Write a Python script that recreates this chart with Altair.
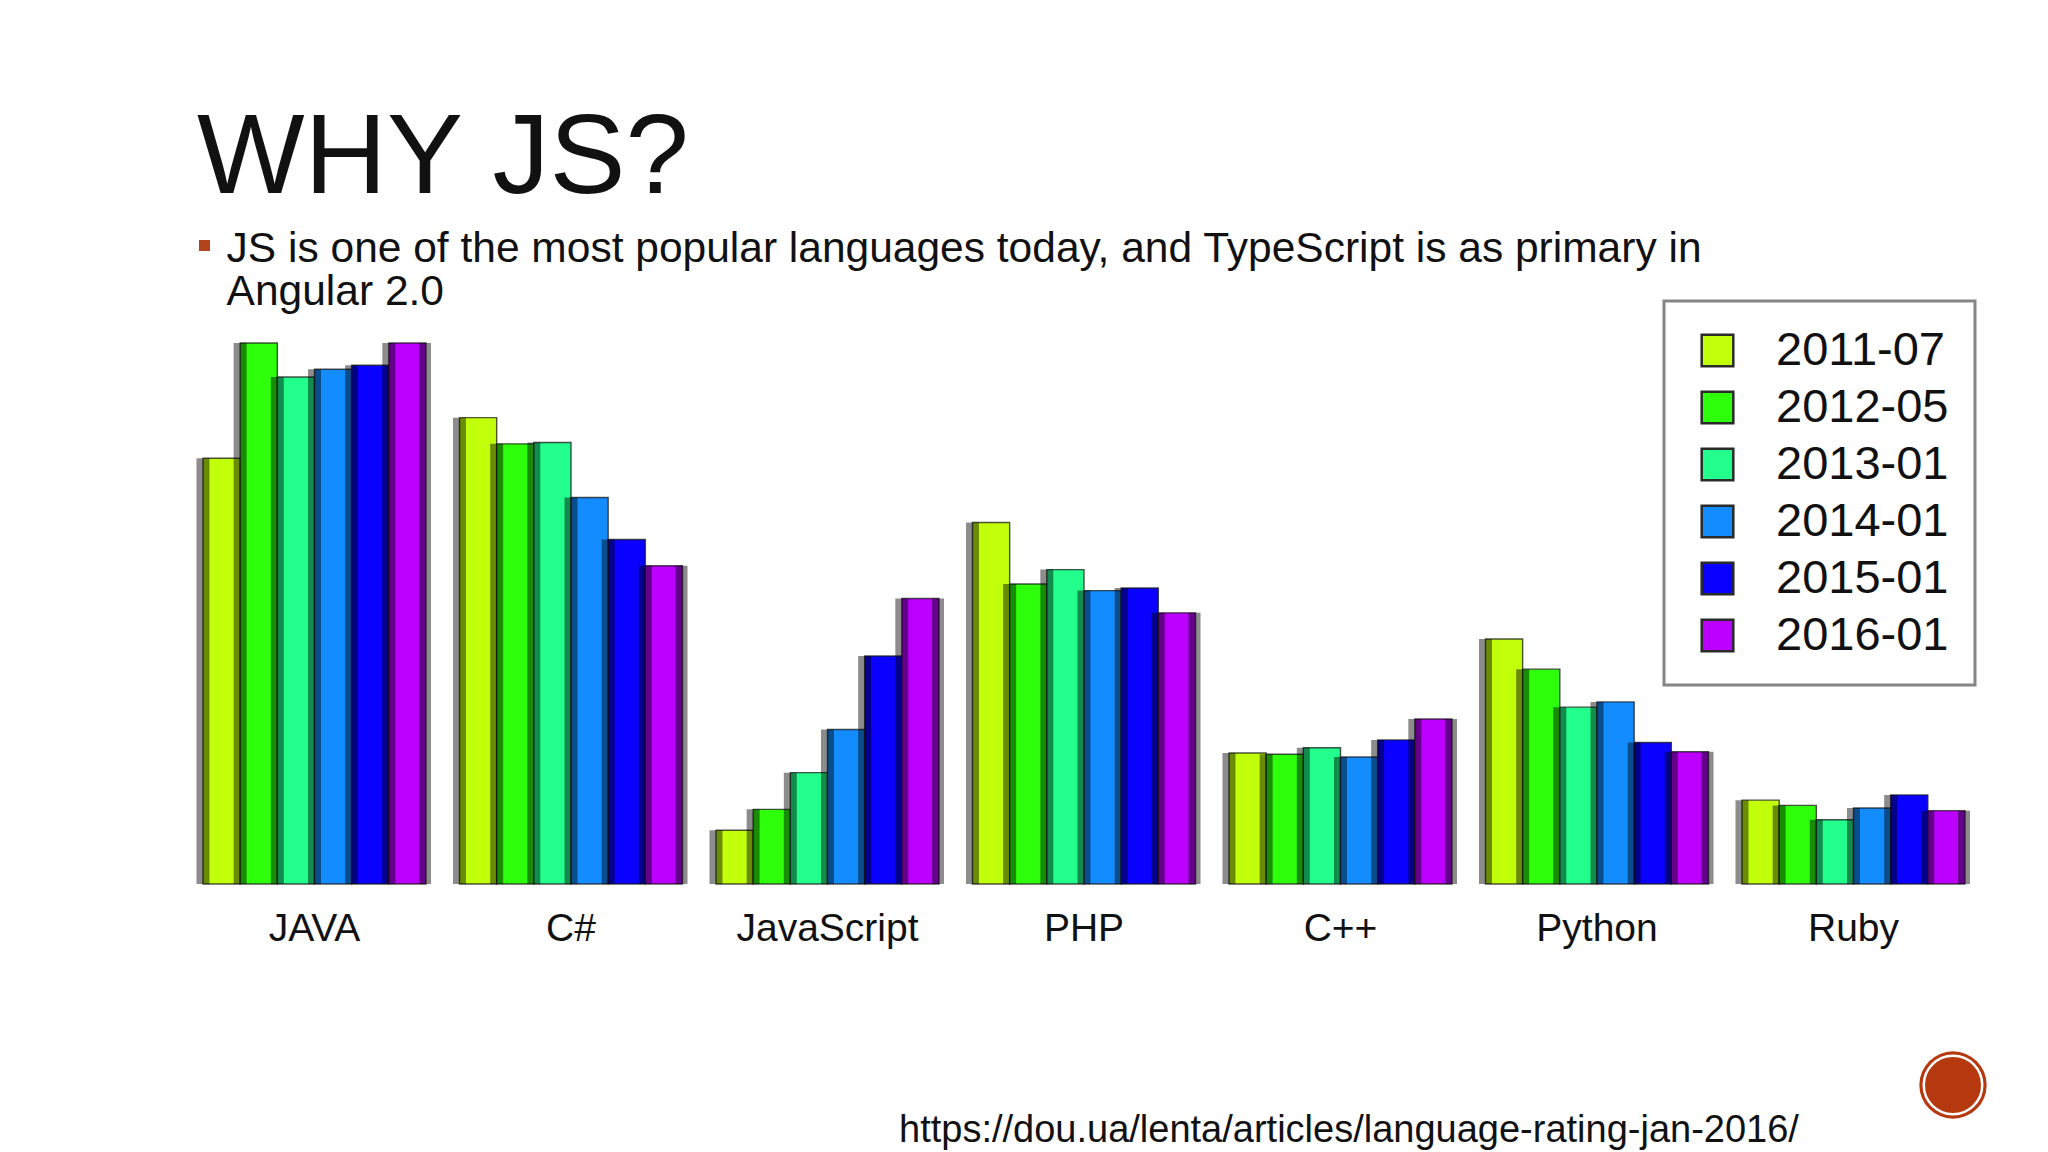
import math
import altair as alt
import pandas as pd

# ---- data (arbitrary rating units) ----
languages = ["JAVA", "C#", "JavaScript", "PHP", "C++", "Python", "Ruby"]
years = ["2011-07", "2012-05", "2013-01", "2014-01", "2015-01", "2016-01"]
colors = ["#C2FF0A", "#2EFF0A", "#22FF8C", "#128CFF", "#0A00FF", "#BB00FF"]

java = [32.5, 41.3, 38.7, 39.3, 39.6, 41.3]
csharp = [35.6, 33.6, 33.7, 29.5, 26.3, 24.3]
javascript = [4.1, 5.7, 8.5, 11.8, 17.4, 21.8]
php = [27.6, 22.9, 24.0, 22.4, 22.6, 20.7]
cpp = [10.0, 9.9, 10.4, 9.7, 11.0, 12.6]
python = [18.7, 16.4, 13.5, 13.9, 10.8, 10.1]
ruby = [6.4, 6.0, 4.9, 5.8, 6.8, 5.6]

title_text = "WHY JS?"
bullet_line1 = "JS is one of the most popular languages today, and TypeScript is as primary in"
bullet_line2 = "Angular 2.0"
source_url = "https://dou.ua/lenta/articles/language-rating-jan-2016/"

series = [java, csharp, javascript, php, cpp, python, ruby]
rows = []
for lang, vals in zip(languages, series):
    for yr, v in zip(years, vals):
        rows.append({"lang": lang, "year": yr, "value": v})
df = pd.DataFrame(rows)
one = pd.DataFrame({"k": [0]})

W, H = 2032, 1144
SANS = "Liberation Sans, Arial, sans-serif"
X0, X1 = 195, 1957
HALF_BAR = 18.6


def bar_encoding(shift, axis):
    return dict(
        x=alt.X(
            "lang:N",
            sort=languages,
            scale=alt.Scale(domain=languages, range=[X0 + shift, X1 + shift],
                            paddingInner=0.1306, paddingOuter=0),
            axis=axis,
        ),
        xOffset=alt.XOffset("year:N", sort=years,
                            scale=alt.Scale(domain=years, paddingInner=0, paddingOuter=0)),
        y=alt.Y("value:Q", scale=alt.Scale(domain=[0, 41.3], range=[876, 335], nice=False), axis=None),
    )


x_axis = alt.Axis(
    title=None, domain=False, ticks=False, grid=False, labelAngle=0,
    labelFont=SANS, labelFontSize=39, labelColor="#111111", labelLimit=0,
    labelBaseline="alphabetic", labelPadding=56, offset=-268,
)

bars = alt.Chart(df).mark_bar(stroke="#1a1a1a", strokeWidth=1.4, strokeOpacity=0.75).encode(
    color=alt.Color(
        "year:N",
        sort=years,
        scale=alt.Scale(domain=years, range=colors),
        legend=alt.Legend(
            title=None, orient="none", legendX=1656, legendY=293,
            symbolType="square", symbolSize=1000, symbolStrokeColor="#2a2a2a",
            symbolStrokeWidth=2.5, symbolOffset=4,
            labelFont=SANS, labelFontSize=47, labelColor="#111111", labelOffset=35,
            labelLimit=0, rowPadding=9, padding=26, strokeColor="#858585", fillColor="white",
        ),
    ),
    **bar_encoding(0, x_axis),
)

# dark edge shading centred on each bar's left edge (shifted copy of the band scale)
strips = alt.Chart(df).mark_bar(color="black", opacity=0.45, width=13).encode(
    **bar_encoding(-HALF_BAR, None)
)
# dark edge on the right side of the last bar of each group
right_edge = alt.Chart(df).transform_filter(alt.datum.year == "2016-01").mark_bar(
    color="black", opacity=0.45, width=12
).encode(**bar_encoding(HALF_BAR - 1, None))

title = alt.Chart(one).mark_text(
    text=title_text, font=SANS, fontSize=114, align="left", baseline="alphabetic", color="#111111"
).encode(x=alt.value(189), y=alt.value(185))

bullet = alt.Chart(one).mark_square(size=121, color="#B4441E", opacity=1).encode(
    x=alt.value(196.5), y=alt.value(237.5)
)

sub1 = alt.Chart(one).mark_text(
    text=bullet_line1, font=SANS, fontSize=42.5, align="left", baseline="alphabetic", color="#111111"
).encode(x=alt.value(218.6), y=alt.value(254))
sub2 = alt.Chart(one).mark_text(
    text=bullet_line2, font=SANS, fontSize=42.5, align="left", baseline="alphabetic", color="#111111"
).encode(x=alt.value(218.6), y=alt.value(297))

url = alt.Chart(one).mark_text(
    text=source_url, font=SANS, fontSize=38, align="left", baseline="alphabetic", color="#111111"
).encode(x=alt.value(891), y=alt.value(1134))

circ = alt.Chart(one).mark_circle(size=math.pi * 38 ** 2, color="#B5380F", opacity=1).encode(
    x=alt.value(1945), y=alt.value(1077)
)
ring = alt.Chart(one).mark_point(
    shape="circle", filled=False, stroke="white", strokeWidth=2.5, size=math.pi * 33 ** 2, opacity=1
).encode(x=alt.value(1945), y=alt.value(1077))

chart = alt.layer(
    bars, strips, right_edge, title, bullet, sub1, sub2, url, circ, ring
).resolve_scale(
    x="independent", xOffset="independent"
).properties(
    width=W, height=H, autosize=alt.AutoSizeParams(type="none"), padding=0
).configure_view(stroke=None).configure_legend(strokeWidth=3)

chart.save("out.html", embed_options={"renderer": "svg", "actions": False})
